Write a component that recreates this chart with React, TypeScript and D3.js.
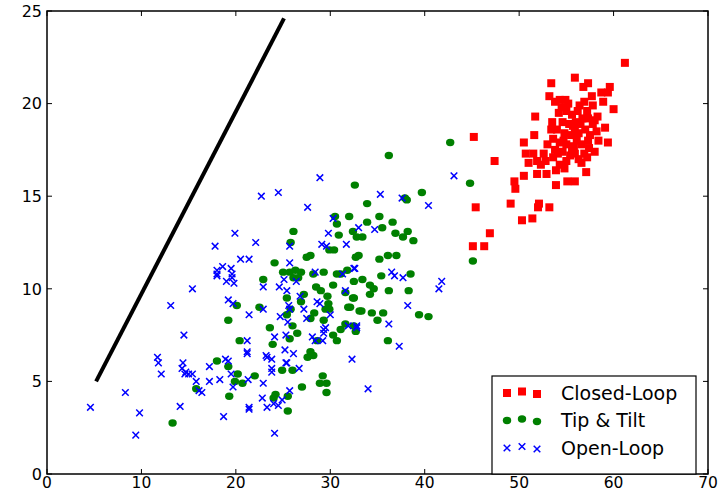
import React from 'react';
import * as d3 from 'd3';

// Closed-Loop (red squares)
const closedLoop: [number, number][] = [
  [61.2, 22.2], [53.4, 21.1], [55.9, 21.4], [56.8, 20.9], [57.3, 21.1], [58.7, 20.6], [59.4, 20.6], [59.6, 20.9],
  [53.2, 20.4], [54.3, 20.2], [54.9, 20.2], [53.8, 20.1], [57.7, 20.4], [58.9, 20.1], [57.8, 19.9], [60.0, 19.7],
  [51.7, 19.3], [53.5, 19.0], [45.2, 18.2], [51.6, 18.3], [50.5, 17.9], [59.4, 17.9], [59.1, 18.7], [58.0, 19.1],
  [57.3, 19.2], [58.2, 18.5], [47.4, 16.9], [50.7, 17.3], [51.5, 17.3], [52.6, 17.3], [53.6, 17.1], [51.0, 16.8],
  [51.9, 16.9], [52.8, 16.9], [50.5, 16.1], [51.9, 16.2], [52.9, 16.2], [53.9, 16.4], [54.8, 16.5], [54.3, 16.7],
  [55.0, 16.9], [56.3, 17.0], [57.2, 17.1], [55.9, 17.3], [57.1, 16.3], [49.5, 15.8], [49.6, 15.4], [53.9, 15.6],
  [55.1, 15.8], [55.9, 15.8], [45.4, 14.4], [49.1, 14.6], [52.1, 14.6], [52.0, 14.4], [53.2, 14.4], [51.4, 13.8],
  [50.3, 13.7], [46.9, 13.0], [45.1, 12.3], [46.3, 12.3],
  [54.2, 19.5], [55.0, 19.6], [55.6, 19.4], [56.2, 19.6], [54.6, 19.0], [55.3, 18.9], [56.0, 19.0], [56.7, 19.2],
  [57.0, 18.6], [54.0, 18.6], [54.8, 18.4], [55.5, 18.3], [56.3, 18.4], [57.5, 18.3], [58.4, 18.0], [53.6, 18.1],
  [54.3, 17.9], [55.0, 17.8], [55.8, 17.7], [56.6, 17.8], [57.4, 17.6], [58.0, 17.4], [53.8, 17.5], [54.6, 17.4],
  [55.4, 17.2], [56.1, 18.0], [56.9, 17.3], [57.8, 18.9], [55.9, 18.6], [54.7, 18.0], [53.4, 18.6], [56.4, 19.9],
  [55.2, 20.0], [57.2, 19.6], [58.3, 19.3], [56.6, 16.8], [53.0, 17.8], [55.6, 17.5], [57.3, 18.0],
  [54.5, 19.8], [55.7, 18.8], [56.5, 18.9], [54.1, 17.3], [52.3, 16.7], [56.9, 20.1],
];

// Tip & Tilt (green dots)
const tipTilt: [number, number][] = [
  [13.3, 2.75], [15.8, 4.6], [18.0, 6.1], [19.2, 5.8], [19.3, 4.2], [19.2, 8.3], [20.1, 9.1], [20.2, 5.4],
  [19.9, 5.0], [20.7, 4.9], [20.4, 7.2], [22.0, 5.3], [22.5, 9.0], [22.9, 10.5], [23.6, 7.9], [23.9, 7.0],
  [24.1, 11.4], [24.2, 4.3], [24.0, 4.1], [24.9, 5.6], [25.0, 10.9], [25.7, 10.9], [26.1, 10.6], [26.6, 10.6],
  [26.9, 10.9], [26.3, 11.0], [25.5, 4.2], [25.5, 3.4], [25.4, 8.6], [25.8, 8.9], [25.7, 7.3], [26.0, 5.6],
  [26.0, 8.0], [26.1, 13.1], [25.8, 12.5], [26.5, 7.6], [27.0, 4.7], [26.9, 9.3], [27.2, 9.7], [27.5, 11.7],
  [27.9, 11.8], [27.6, 6.3], [27.9, 8.4], [27.9, 6.6], [28.2, 6.4], [28.3, 8.7], [28.2, 10.8], [28.5, 10.1],
  [29.0, 9.9], [28.6, 7.2], [29.3, 10.9], [29.3, 8.3], [29.5, 8.9], [28.9, 4.9], [29.2, 5.3], [29.6, 4.9],
  [29.6, 4.4], [29.9, 12.1], [30.4, 12.1], [30.3, 10.2], [29.7, 9.6], [29.8, 9.2], [29.9, 8.9], [30.3, 7.5],
  [30.7, 7.2], [31.1, 7.8], [30.7, 10.8], [31.1, 10.8], [31.8, 11.0], [31.6, 9.8], [31.9, 9.0], [32.5, 9.5],
  [32.5, 10.4], [32.7, 11.7], [33.0, 11.8], [31.6, 8.1], [32.5, 8.0], [33.1, 8.8], [25.4, 9.5],
  [32.6, 15.6], [30.5, 13.9], [30.7, 13.5], [32.0, 13.9], [32.4, 13.1], [32.8, 12.8], [30.9, 12.9],
  [42.7, 17.9], [36.2, 17.2], [44.8, 15.7], [39.7, 15.2], [37.9, 14.9], [38.1, 14.8], [33.9, 14.6], [33.9, 13.6],
  [35.2, 13.9], [36.6, 13.6], [35.5, 13.3], [36.9, 13.0], [38.2, 13.1], [37.7, 12.8], [38.8, 12.6], [33.4, 12.8],
  [35.2, 11.6], [36.1, 11.8], [37.0, 11.8], [35.4, 10.7], [38.5, 10.8], [33.4, 10.5], [34.2, 10.2], [34.6, 10.0],
  [34.2, 9.7], [36.2, 9.9], [38.3, 9.9], [32.4, 9.5], [32.1, 9.0], [33.3, 8.8], [34.4, 8.7], [35.6, 8.7],
  [35.0, 8.3], [39.4, 8.6], [40.4, 8.5], [45.1, 11.5], [32.7, 7.7], [36.1, 7.2],
];

// Open-Loop (blue crosses)
const openLoop: [number, number][] = [
  [4.6, 3.6], [8.3, 4.4], [9.8, 3.3], [9.4, 2.1], [13.1, 9.1], [11.7, 6.3], [11.8, 6.0], [12.1, 5.4],
  [14.1, 3.65], [14.5, 7.5], [15.4, 10.0], [14.4, 6.0], [14.3, 5.7], [14.7, 5.5], [14.6, 5.4], [15.0, 5.4],
  [15.4, 5.4], [15.8, 5.0], [16.1, 4.5], [16.4, 4.4], [17.2, 5.8], [17.2, 5.0], [17.8, 12.3], [18.0, 11.0],
  [18.0, 10.8], [18.0, 10.7], [18.6, 11.2], [19.5, 11.1], [19.6, 10.8], [19.6, 10.6], [19.0, 10.4], [19.8, 10.3],
  [19.2, 9.4], [19.7, 9.2], [18.3, 5.1], [18.9, 6.2], [19.2, 6.1], [19.5, 5.4], [19.7, 4.7], [18.7, 3.1],
  [20.5, 11.6], [21.4, 11.6], [21.4, 8.6], [21.2, 7.2], [21.2, 6.5], [21.3, 5.1], [21.4, 3.5], [22.1, 12.5],
  [22.9, 10.1], [22.9, 8.9], [23.2, 6.4], [22.9, 4.9], [22.8, 4.1], [23.3, 3.6], [23.8, 6.2], [23.8, 5.7],
  [23.8, 5.5], [24.1, 7.4], [24.1, 2.2], [24.0, 3.8], [24.5, 3.7], [24.9, 4.0], [24.6, 10.1], [25.1, 10.5],
  [25.4, 9.9], [25.6, 9.1], [25.7, 8.9], [24.7, 8.5], [25.5, 8.2], [25.3, 7.5], [25.2, 6.7], [25.3, 6.0],
  [25.7, 4.5], [25.7, 11.4], [25.7, 12.3], [26.1, 6.5], [26.4, 10.4], [26.7, 5.7], [26.8, 9.6], [27.2, 8.9],
  [27.5, 8.4], [28.1, 7.4], [28.4, 7.2], [28.4, 10.9], [28.6, 9.3], [28.9, 9.2], [29.1, 12.4], [29.6, 12.3],
  [29.3, 7.8], [29.5, 7.9], [29.2, 7.2], [30.0, 8.6], [31.3, 10.8], [31.6, 9.9], [31.7, 12.4], [31.9, 8.0],
  [32.3, 6.2], [32.8, 8.0], [32.5, 11.1], [28.9, 16.0], [22.7, 15.0], [24.5, 15.2], [27.6, 14.4], [30.3, 13.8],
  [19.9, 13.0], [29.8, 13.0], [33.0, 13.3], [43.1, 16.1], [35.3, 15.1], [37.6, 14.9], [40.4, 14.5], [34.7, 13.2],
  [32.6, 11.1], [36.5, 10.9], [36.8, 10.7], [37.7, 10.6], [41.8, 10.4], [41.5, 10.0], [38.2, 9.1], [36.2, 8.1],
  [32.8, 7.9], [37.3, 6.9], [34.0, 4.6], [21.2, 6.6], [23.3, 6.3], [25.4, 6.0], [29.3, 7.6], [21.4, 3.6],
];

// black reference line
const refLineX = [5.2, 25.1];
const refLineY = [5.0, 24.6];

const xTicks = [0, 10, 20, 30, 40, 50, 60, 70];
const yTicks = [0, 5, 10, 15, 20, 25];
const legendLabels = ['Closed-Loop', 'Tip & Tilt', 'Open-Loop'];

const W = 721;
const H = 493;
const left = 47, right = 708, top = 11, bottom = 474;
const FONT = 'DejaVu Sans, sans-serif';

const crossPath = (s: number) => `M${-s},${-s}L${s},${s}M${-s},${s}L${s},${-s}`;

const Marker = ({ kind, cx, cy }: { kind: number; cx: number; cy: number }) => {
  if (kind === 0) return <rect x={cx - 4} y={cy - 4} width={8} height={8} fill="#ff0000" />;
  if (kind === 1) return <ellipse cx={cx} cy={cy} rx={4.2} ry={3.7} fill="#008000" />;
  return <path d={crossPath(3.3)} transform={`translate(${cx},${cy})`} stroke="#0000ff" strokeWidth={1.5} fill="none" />;
};

export default function App() {
  const x = d3.scaleLinear().domain([0, 70]).range([left, right]);
  const y = d3.scaleLinear().domain([0, 25]).range([bottom, top]);

  const refLine = d3.line<number>()
    .x((d) => x(refLineX[d]))
    .y((d) => y(refLineY[d]))([0, 1]) || '';

  const series = [closedLoop, tipTilt, openLoop];

  // legend box layout
  const lg = { x0: 492, y0: 376, x1: 696, y1: 474 };
  const rowY = [393, 420.5, 448];
  const markerDx = [507, 522, 537];
  const markerJitter = [0, -1.5, 1];

  return (
    <svg width={W} height={H} style={{ position: 'absolute', left: 0, top: 0, background: '#fff' }}>
      <rect x={0} y={0} width={W} height={H} fill="#fff" />

      <path d={refLine} stroke="#000" strokeWidth={4} fill="none" />

      {series.map((pts, k) => (
        <g key={k}>
          {pts.map(([a, b], i) => (
            <Marker key={i} kind={k} cx={x(a)} cy={y(b)} />
          ))}
        </g>
      ))}

      {/* ticks, inside, on all sides */}
      {xTicks.map((t) => (
        <g key={'x' + t}>
          <line x1={x(t)} x2={x(t)} y1={bottom} y2={bottom - 5} stroke="#000" strokeWidth={1} />
          <line x1={x(t)} x2={x(t)} y1={top} y2={top + 5} stroke="#000" strokeWidth={1} />
          <text x={x(t)} y={488} textAnchor="middle" fontFamily={FONT} fontSize={15.5} fill="#000">{t}</text>
        </g>
      ))}
      {yTicks.map((t) => (
        <g key={'y' + t}>
          <line x1={left} x2={left + 5} y1={y(t)} y2={y(t)} stroke="#000" strokeWidth={1} />
          <line x1={right} x2={right - 5} y1={y(t)} y2={y(t)} stroke="#000" strokeWidth={1} />
          <text x={42} y={y(t)} dy="0.36em" textAnchor="end" fontFamily={FONT} fontSize={16} fill="#000">{t}</text>
        </g>
      ))}

      <rect x={left} y={top} width={right - left} height={bottom - top} fill="none" stroke="#000" strokeWidth={1.5} />

      {/* legend */}
      <rect x={lg.x0} y={lg.y0} width={lg.x1 - lg.x0} height={lg.y1 - lg.y0} fill="#fff" stroke="#000" strokeWidth={1.2} />
      {legendLabels.map((label, k) => (
        <g key={label}>
          {markerDx.map((mx, j) => (
            <Marker key={j} kind={k} cx={mx} cy={rowY[k] + markerJitter[j]} />
          ))}
          <text x={561} y={rowY[k] + 6.5} fontFamily={FONT} fontSize={19} fill="#000">{label}</text>
        </g>
      ))}
    </svg>
  );
}
